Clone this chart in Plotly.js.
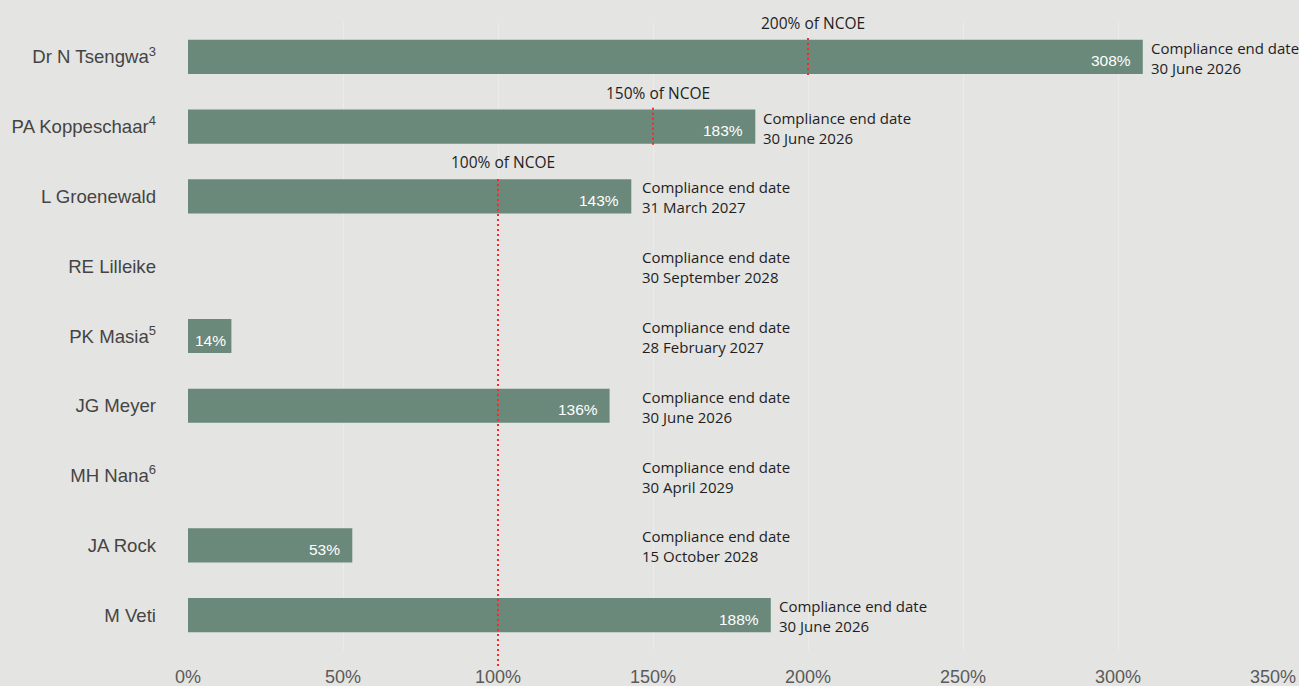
<!DOCTYPE html>
<html>
<head>
<meta charset="utf-8">
<script src="https://cdn.plot.ly/plotly-3.0.1.min.js"></script>
<style>
  html, body { margin: 0; padding: 0; background: #e4e4e2; }
  #chart { width: 1299px; height: 686px; }
</style>
</head>
<body>
<div id="chart"></div>
<script>
// ---- data ----
const names = [
  "Dr N Tsengwa<sup>3</sup>",
  "PA Koppeschaar<sup>4</sup>",
  "L Groenewald",
  "RE Lilleike",
  "PK Masia<sup>5</sup>",
  "JG Meyer",
  "MH Nana<sup>6</sup>",
  "JA Rock",
  "M Veti"
];
const compliancePct = [308, 183, 143, null, 14, 136, null, 53, 188];
const endDates = [
  "30 June 2026",
  "30 June 2026",
  "31 March 2027",
  "30 September 2028",
  "28 February 2027",
  "30 June 2026",
  "30 April 2029",
  "15 October 2028",
  "30 June 2026"
];
const ncoeThresholds = [200, 150, 100, null, null, null, null, null, null];
const xTickVals = [0, 50, 100, 150, 200, 250, 300, 350];
const xTickText = ["0%", "50%", "100%", "150%", "200%", "250%", "300%", "350%"];

// ---- styling ----
const BAR = "#6a897b";
const RED = "#ff2626";
const BG = "#e4e4e2";
const DATE_COL_MIN = 144;
const SHORT_BAR = 30;

const trace = {
  type: "bar",
  orientation: "h",
  y: names,
  x: compliancePct,
  width: 0.49,
  marker: { color: BAR },
  hoverinfo: "skip",
  cliponaxis: false
};

const annotations = [];
const shapes = [];
names.forEach((n, i) => {
  const val = compliancePct[i];
  const v = val || 0;
  // value label inside the bar
  if (val != null) {
    const short = val < SHORT_BAR;
    annotations.push({
      x: short ? val / 2 : val, y: n, xref: "x", yref: "y",
      xanchor: short ? "center" : "right", yanchor: "middle",
      xshift: short ? 1 : -10, yshift: -4,
      showarrow: false,
      text: val + "%",
      font: { family: "Liberation Sans", size: 15.5, color: "#ffffff" }
    });
  }
  // compliance end date
  annotations.push({
    x: Math.max(v, DATE_COL_MIN), y: n, xref: "x", yref: "y",
    xanchor: "left", yanchor: "middle", xshift: 6, yshift: -1,
    align: "left", showarrow: false,
    text: "Compliance end date<br>" + endDates[i],
    font: { family: "Open Sans", size: 15, color: "#1e1e1e" }
  });
  const t = ncoeThresholds[i];
  if (t != null) {
    annotations.push({
      x: t, y: n, xref: "x", yref: "y",
      xanchor: "center", yanchor: "bottom", yshift: 21, xshift: 5,
      showarrow: false,
      text: t + "% of NCOE",
      font: { family: "Open Sans", size: 15.5, color: "#1e1e1e" }
    });
    if (i === 2) {
      // extends down through the rest of the chart
      shapes.push({
        type: "line", xref: "x", yref: "paper",
        x0: t, x1: t, y0: 1 - (i + 0.25) / 9, y1: -0.03,
        line: { color: RED, width: 2, dash: "2px,3px" }, layer: "above"
      });
    } else {
      shapes.push({
        type: "line", xref: "x", yref: "y",
        x0: t, x1: t, y0: i - 0.27, y1: i + 0.27,
        line: { color: RED, width: 2, dash: "2px,3px" }, layer: "above"
      });
    }
  }
});

const layout = {
  width: 1299,
  height: 686,
  paper_bgcolor: BG,
  plot_bgcolor: BG,
  margin: { l: 188, r: 26, t: 22, b: 36 },
  showlegend: false,
  xaxis: {
    range: [0, 350],
    tickvals: xTickVals,
    ticktext: xTickText,
    showgrid: true,
    gridcolor: "#ebebe9",
    gridwidth: 1,
    zeroline: false,
    showline: false,
    ticks: "",
    ticklabelstandoff: 14,
    tickfont: { family: "Liberation Sans", size: 18, color: "#5a5a5a" },
    fixedrange: true
  },
  yaxis: {
    type: "category",
    categoryorder: "array",
    categoryarray: names,
    autorange: false,
    range: [8.5, -0.5],
    showgrid: false,
    zeroline: false,
    showline: false,
    ticks: "",
    ticklabelstandoff: 31,
    tickfont: { family: "Liberation Sans", size: 18.6, color: "#444444" },
    fixedrange: true
  },
  annotations: annotations,
  shapes: shapes
};

Plotly.newPlot("chart", [trace], layout, { displayModeBar: false, staticPlot: true });
</script>
</body>
</html>
